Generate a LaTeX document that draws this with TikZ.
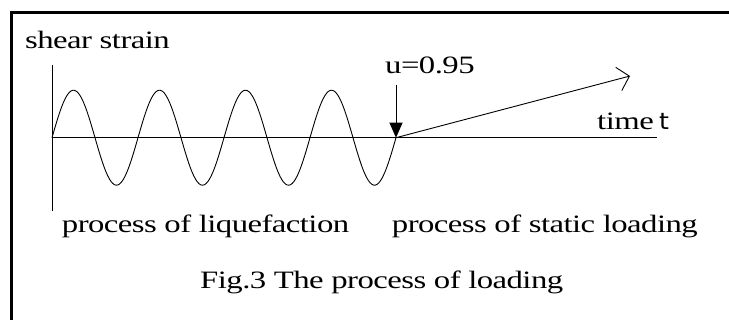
\documentclass[tikz,border=0pt]{standalone}
\usepackage{fontspec}
\setmainfont{Liberation Serif}[FakeStretch=1.31,LetterSpace=-2.2]
\newfontfamily\tsans{DejaVu Sans}[FakeStretch=1.1]
\usetikzlibrary{arrows.meta}
\begin{document}
\begin{tikzpicture}[x=1pt,y=-1pt,
  lbl/.style={inner sep=0pt,anchor=base west,font=\fontsize{25}{29}\selectfont},
  thin line/.style={line width=0.9pt,black},
  frame/.style={line width=2.6pt,black}]
\useasboundingbox (0,0) rectangle (729,320);
% frame
\draw[frame] (729,12.7) -- (11.5,12.7) -- (11.5,320);
% axes
\coordinate (o) at (52,137.7);
\coordinate (ytop) at (52,65);
\coordinate (ybot) at (52,210.7);
\coordinate (xend) at (657,137.7);
\coordinate (u) at (396,137.7);
\coordinate (utop) at (396,85);
\coordinate (static) at (630,76);
\draw[thin line] (ytop) -- (ybot);
\draw[thin line] (o) -- (xend);
% sine
\draw[thin line,smooth] plot[domain=0:344,samples=200] ({52+\x},{137.7-47.5*sin((\x/86)*360)});
% arrows
\draw[thin line,-{Triangle[length=15pt,width=13pt]}] (utop) -- (u);
\draw[thin line,-{Straight Barb[length=11pt,width=24pt]}] (u) -- (static);
% labels
\node[lbl] (ss) at (25,48.3) {shear strain};
\node[lbl] (uval) at (385,74) {u=0.95};
\node[lbl] (time) at (597,129.3) {time};
\node[lbl,font=\tsans\fontsize{23}{27}\selectfont] (tt) at (659,129.3) {t};
\node[lbl] (liq) at (61.7,232.3) {process of liquefaction};
\node[lbl] (stat) at (391.7,232.3) {process of static loading};
\node[lbl] (cap) at (200,288.3) {Fig.3 The process of loading};
\end{tikzpicture}
\end{document}
